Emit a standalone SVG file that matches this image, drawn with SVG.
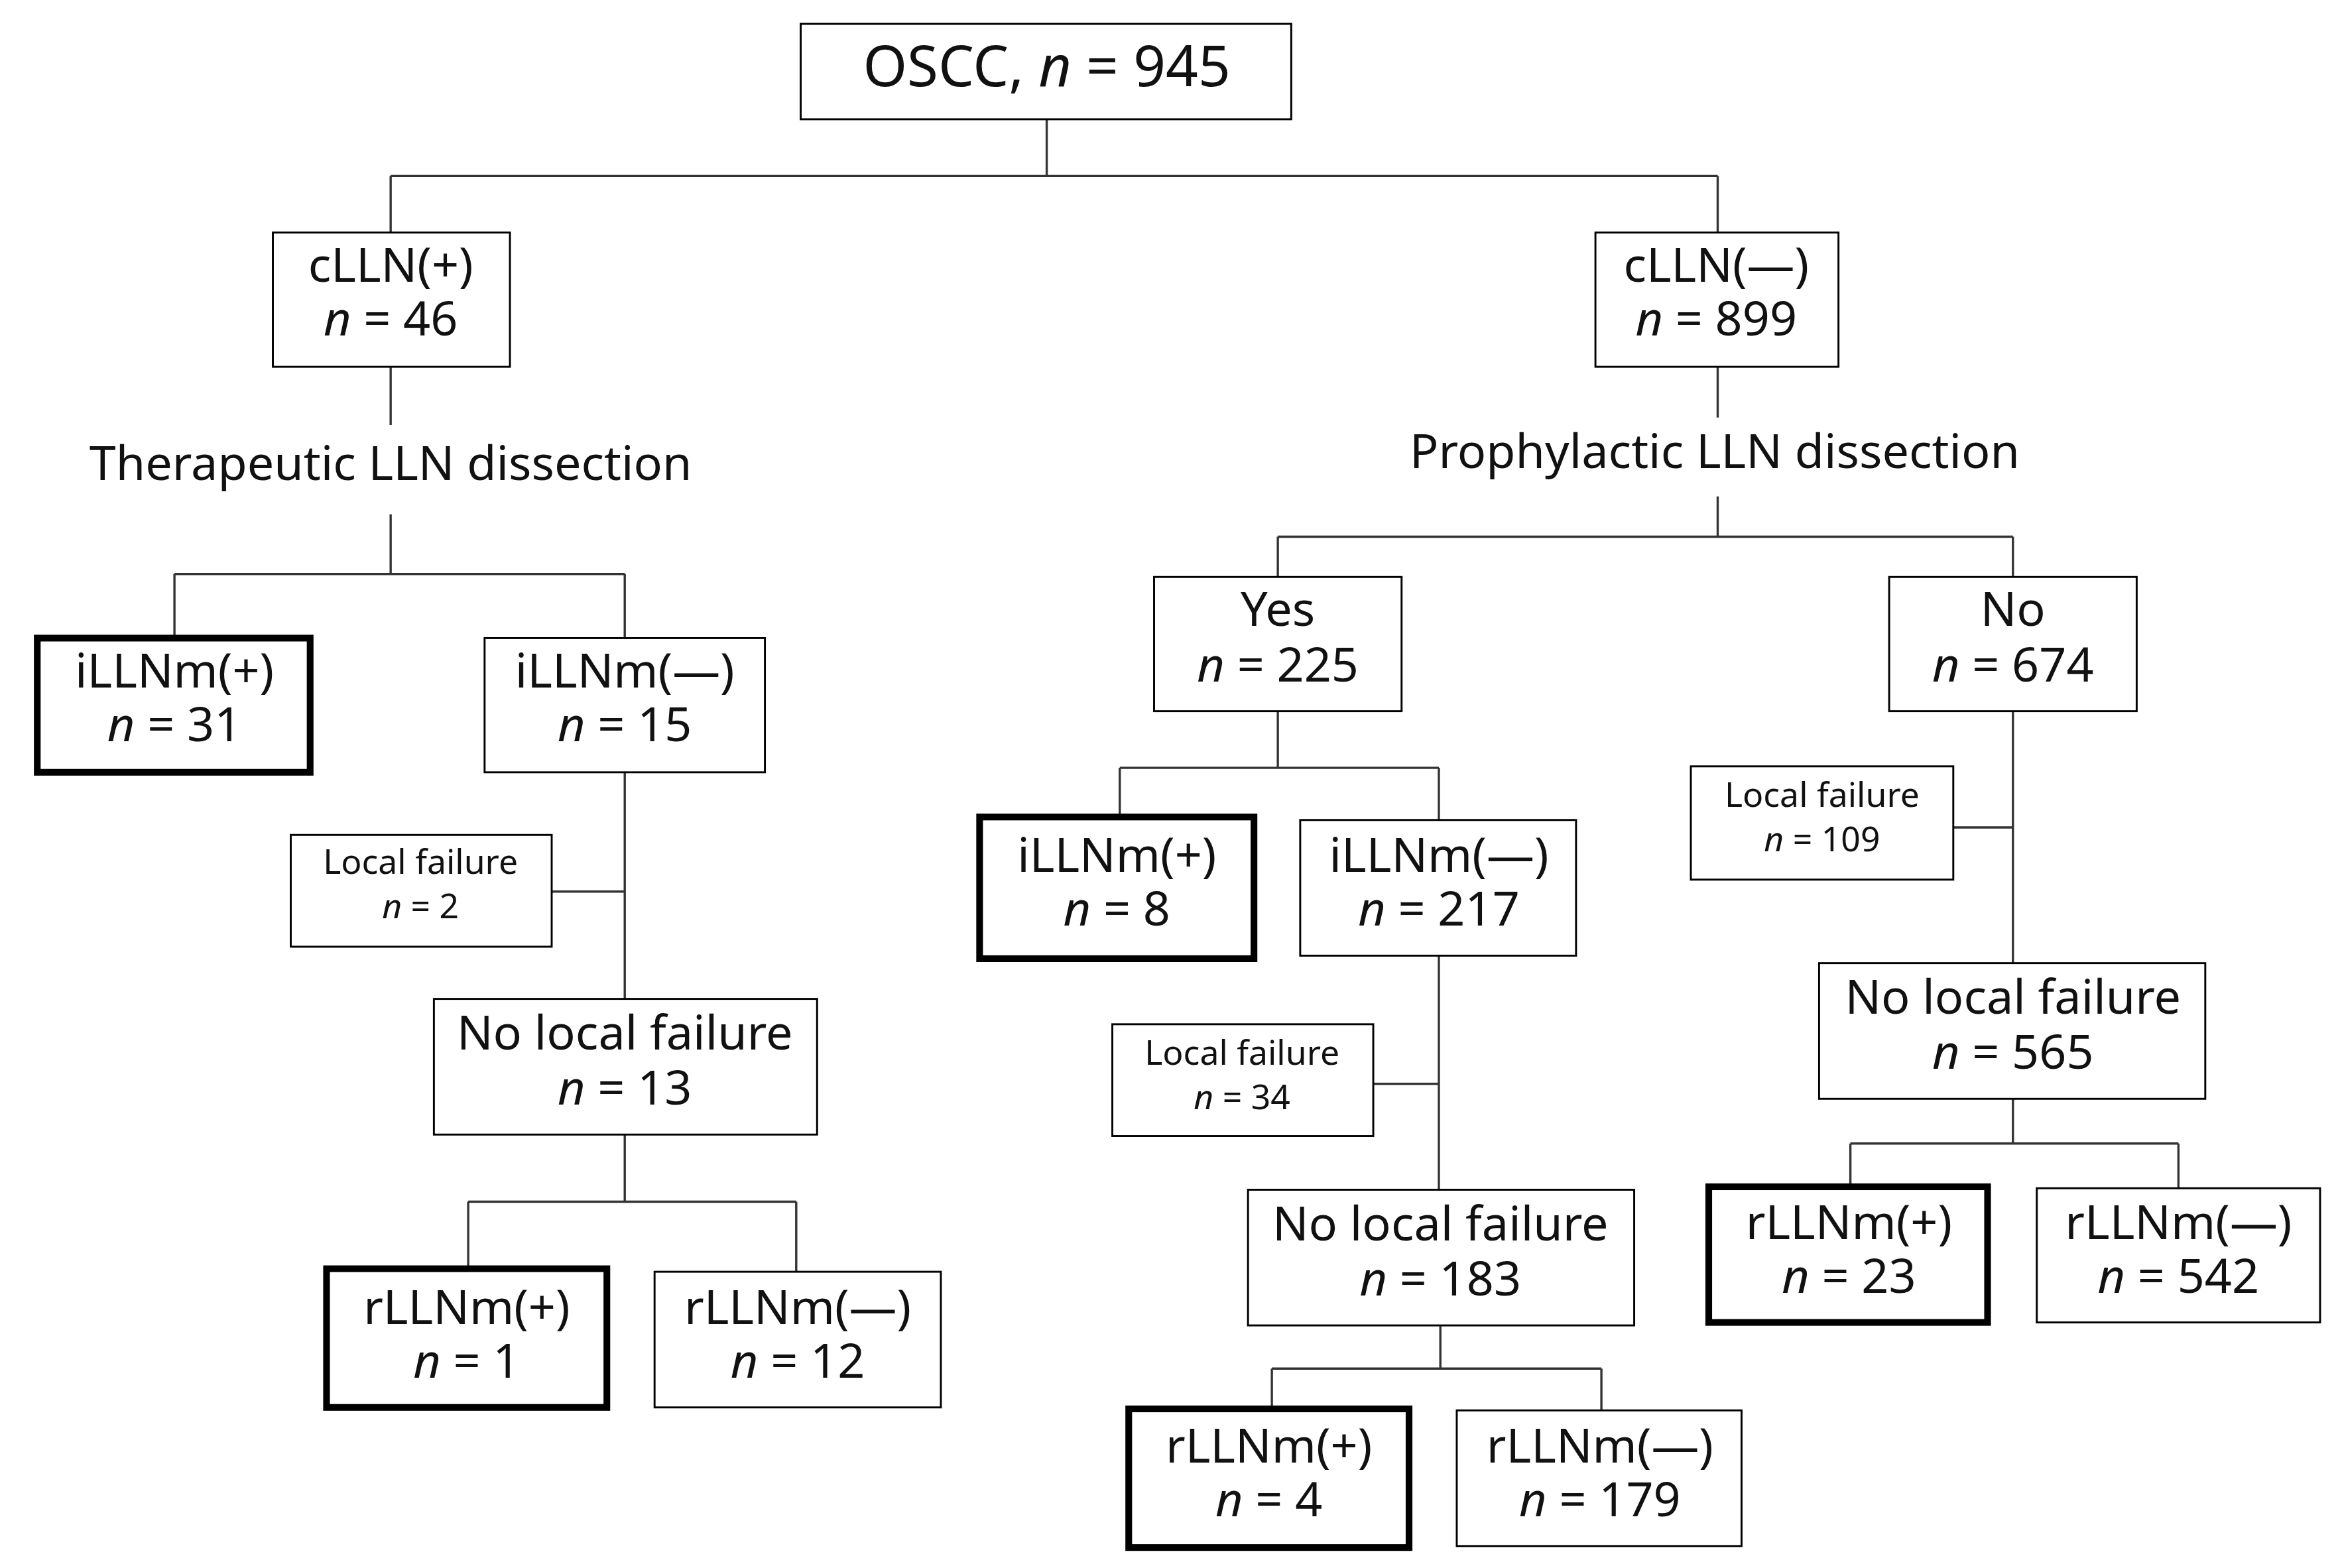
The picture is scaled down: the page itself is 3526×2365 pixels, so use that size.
<svg xmlns="http://www.w3.org/2000/svg" width="3526" height="2365" viewBox="0 0 3526 2365">
<style>
.b{fill:#fff;stroke:#000;stroke-width:1.3}
.t{fill:#fff;stroke:#000;stroke-width:4.5}
.l{fill:none;stroke:#333;stroke-width:1.5}
text{font-family:"Noto Sans","DejaVu Sans",sans-serif;font-size:32px;text-anchor:middle;fill:#111}
.s{font-size:23px}
.r{font-size:38px}
</style>
<rect width="3526" height="2365" fill="#fff"/>
<g transform="scale(2.2487)">
<g id="connectors">
<path class="l" d="M702,80V118M262,118H1152M262,118V156M1152,118V156"/>
<path class="l" d="M262,246V285M262,345V385M117,385H419M117,385V428M419,385V428"/>
<path class="l" d="M419,518V670M370,598H419M419,761V806M314,806H534M314,806V851M534,806V853"/>
<path class="l" d="M1152,246V280M1152,333V360M857,360H1350M857,360V387M1350,360V387"/>
<path class="l" d="M857,477V515M751,515H965M751,515V548M965,515V550M965,641V798M921,727H965"/>
<path class="l" d="M966,889V918M853,918H1074M853,918V945M1074,918V946"/>
<path class="l" d="M1350,477V646M1310,555H1350M1350,737V767M1241,767H1461M1241,767V796M1461,767V797"/>
</g>
<g id="root"><rect class="b" x="537" y="16" width="329" height="64"/><text class="r" x="702" y="58">OSCC, <tspan font-style="italic">n</tspan> = 945</text></g>
<g id="clln-pos"><rect class="b" x="183" y="156" width="159" height="90"/><text x="262" y="189">cLLN(+)</text><text x="262" y="225"><tspan font-style="italic">n</tspan> = 46</text></g>
<g id="clln-neg"><rect class="b" x="1070" y="156" width="163" height="90"/><text x="1151" y="189">cLLN(—)</text><text x="1151" y="225"><tspan font-style="italic">n</tspan> = 899</text></g>
<g id="ther"><text x="262" y="322">Therapeutic LLN dissection</text></g>
<g id="proph"><text x="1150" y="314">Prophylactic LLN dissection</text></g>
<g id="l-ipos"><rect class="t" x="25" y="428" width="183" height="90"/><text x="117" y="461">iLLNm(+)</text><text x="117" y="497"><tspan font-style="italic">n</tspan> = 31</text></g>
<g id="l-ineg"><rect class="b" x="325" y="428" width="188" height="90"/><text x="419" y="461">iLLNm(—)</text><text x="419" y="497"><tspan font-style="italic">n</tspan> = 15</text></g>
<g id="l-lf"><rect class="b" x="195" y="560" width="175" height="75"/><text class="s" x="282" y="586">Local failure</text><text class="s" x="282" y="616"><tspan font-style="italic">n</tspan> = 2</text></g>
<g id="l-nlf"><rect class="b" x="291" y="670" width="257" height="91"/><text x="419" y="704">No local failure</text><text x="419" y="741"><tspan font-style="italic">n</tspan> = 13</text></g>
<g id="l-rpos"><rect class="t" x="219" y="851" width="188" height="93"/><text x="313" y="888">rLLNm(+)</text><text x="313" y="924"><tspan font-style="italic">n</tspan> = 1</text></g>
<g id="l-rneg"><rect class="b" x="439" y="853" width="192" height="91"/><text x="535" y="888">rLLNm(—)</text><text x="535" y="924"><tspan font-style="italic">n</tspan> = 12</text></g>
<g id="yes"><rect class="b" x="774" y="387" width="166" height="90"/><text x="857" y="420">Yes</text><text x="857" y="457"><tspan font-style="italic">n</tspan> = 225</text></g>
<g id="no"><rect class="b" x="1267" y="387" width="166" height="90"/><text x="1350" y="420">No</text><text x="1350" y="457"><tspan font-style="italic">n</tspan> = 674</text></g>
<g id="y-ipos"><rect class="t" x="657" y="548" width="184" height="95"/><text x="749" y="585">iLLNm(+)</text><text x="749" y="621"><tspan font-style="italic">n</tspan> = 8</text></g>
<g id="y-ineg"><rect class="b" x="872" y="550" width="185" height="91"/><text x="965" y="585">iLLNm(—)</text><text x="965" y="621"><tspan font-style="italic">n</tspan> = 217</text></g>
<g id="y-lf"><rect class="b" x="746" y="687" width="175" height="75"/><text class="s" x="833" y="714">Local failure</text><text class="s" x="833" y="744"><tspan font-style="italic">n</tspan> = 34</text></g>
<g id="y-nlf"><rect class="b" x="837" y="798" width="259" height="91"/><text x="966" y="832">No local failure</text><text x="966" y="869"><tspan font-style="italic">n</tspan> = 183</text></g>
<g id="y-rpos"><rect class="t" x="757" y="945" width="188" height="93"/><text x="851" y="981">rLLNm(+)</text><text x="851" y="1017"><tspan font-style="italic">n</tspan> = 4</text></g>
<g id="y-rneg"><rect class="b" x="977" y="946" width="191" height="91"/><text x="1073" y="981">rLLNm(—)</text><text x="1073" y="1017"><tspan font-style="italic">n</tspan> = 179</text></g>
<g id="n-lf"><rect class="b" x="1134" y="514" width="176" height="76"/><text class="s" x="1222" y="541">Local failure</text><text class="s" x="1222" y="571"><tspan font-style="italic">n</tspan> = 109</text></g>
<g id="n-nlf"><rect class="b" x="1220" y="646" width="259" height="91"/><text x="1350" y="680">No local failure</text><text x="1350" y="717"><tspan font-style="italic">n</tspan> = 565</text></g>
<g id="n-rpos"><rect class="t" x="1146" y="796" width="187" height="91"/><text x="1240" y="831">rLLNm(+)</text><text x="1240" y="867"><tspan font-style="italic">n</tspan> = 23</text></g>
<g id="n-rneg"><rect class="b" x="1366" y="797" width="190" height="90"/><text x="1461" y="831">rLLNm(—)</text><text x="1461" y="867"><tspan font-style="italic">n</tspan> = 542</text></g>
</g>
</svg>
